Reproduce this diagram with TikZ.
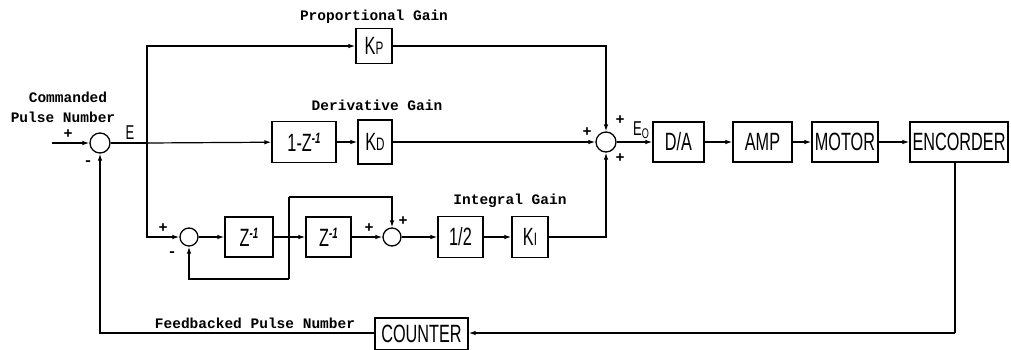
\documentclass[tikz,border=0pt]{standalone}
\usepackage{fontspec}
\setmainfont{Liberation Mono}
\newfontfamily\boxfont[FakeStretch=0.65]{Liberation Sans}
\newfontfamily\lblfont{Liberation Mono}
\usetikzlibrary{arrows.meta}
\newcommand\myzexp{\raisebox{8pt}{\fontsize{15}{15}\selectfont\bfseries\itshape -1}}
\newcommand\mysub[1]{{\fontsize{18}{18}\selectfont #1}}
\begin{document}
\begin{tikzpicture}[x=1pt,y=-1pt,
  blk/.style={draw,line width=1.3pt,inner sep=0pt,font=\boxfont\fontsize{25}{25}\selectfont},
  sumc/.style={draw,circle,line width=1.3pt,inner sep=0pt,minimum size=20pt},
  wire/.style={line width=1.2pt},
  arr/.style={wire,-{Latex[length=7pt,width=4.5pt]}},
  lbl/.style={font=\lblfont\bfseries\fontsize{14.5}{14.5}\selectfont,inner sep=0pt},
  sgn/.style={font=\lblfont\bfseries\fontsize{15}{15}\selectfont,inner sep=0pt},
]
\useasboundingbox (0,0) rectangle (1011,349);
% main row
\coordinate (in) at (52,143);
\node[sumc] (s1) at (100,143) {};
\coordinate (j1) at (147,143);
\node[blk,minimum width=64pt,minimum height=41pt] (dz) at (304,142) {1-Z\myzexp};
\node[blk,minimum width=34pt,minimum height=44pt] (kd) at (375,142) {K\mysub{D}};
\node[blk,minimum width=36pt,minimum height=35pt] (kp) at (374,46) {K\mysub{P}};
\node[sumc] (s2) at (606,142) {};
\node[blk,minimum width=51pt,minimum height=40pt] (da) at (678.5,142) {D/A};
\node[blk,minimum width=59pt,minimum height=40pt] (amp) at (762.5,142) {AMP};
\node[blk,minimum width=66pt,minimum height=40pt] (motor) at (845,142) {MOTOR};
\node[blk,minimum width=98pt,minimum height=40pt] (enc) at (959,142) {ENCORDER};
\node[blk,minimum width=93pt,minimum height=32pt] (counter) at (421.5,334) {COUNTER};
% lower row
\node[sumc,minimum size=18pt] (s3) at (189,237) {};
\node[blk,minimum width=48pt,minimum height=40pt] (z1) at (249,237) {Z\myzexp};
\coordinate (j2) at (289,237);
\node[blk,minimum width=45pt,minimum height=40pt] (z2) at (328.5,237) {Z\myzexp};
\node[sumc,minimum size=18pt] (s4) at (392,237) {};
\node[blk,minimum width=45pt,minimum height=41pt] (half) at (460.5,237) {1/2};
\node[blk,minimum width=36pt,minimum height=41pt] (ki) at (530,237) {K\mysub{I}};
\coordinate (t2) at (289,197);
\coordinate (b2) at (289,279);
\coordinate (encd) at (955,333);
% connectors
\draw[arr] (in) -- (s1);
\draw[wire] (s1) -- (j1);
\draw[arr] (j1) -- (dz);
\draw[arr] (dz) -- (kd);
\draw[arr] (j1) |- (kp);
\draw[arr] (j1) |- (s3);
\draw[arr] (kp) -| (s2);
\draw[arr] (kd) -- (s2);
\draw[arr] (ki) -| (s2);
\draw[arr] (s2) -- (da);
\draw[arr] (da) -- (amp);
\draw[arr] (amp) -- (motor);
\draw[arr] (motor) -- (enc);
\draw[wire] (enc.south -| encd) -- (encd);
\draw[arr] (encd) -- (encd -| counter.east);
\draw[arr] (counter.west |- encd) -| (s1);
\draw[arr] (s3) -- (z1);
\draw[wire] (z1) -- (j2);
\draw[arr] (j2) -- (z2);
\draw[wire] (j2) -- (t2);
\draw[arr] (t2) -| (s4);
\draw[wire] (j2) -- (b2);
\draw[arr] (b2) -| (s3);
\draw[arr] (z2) -- (s4);
\draw[arr] (s4) -- (half);
\draw[arr] (half) -- (ki);
\fill (j1) circle (1.6pt);
\fill (j2) circle (1.6pt);
% labels
\node[lbl] (l1) at (68,97) {Commanded};
\node[lbl] (l2) at (63,117) {Pulse Number};
\node[lbl] (l3) at (374,17) {Proportional Gain};
\node[lbl] (l4) at (377,105) {Derivative Gain};
\node[lbl] (l5) at (510,201) {Integral Gain};
\node[lbl] (l6) at (255,323) {Feedbacked Pulse Number};
\node[font=\boxfont\fontsize{20}{20}\selectfont,inner sep=0pt] (le) at (130,133) {E};
\node[font=\boxfont\fontsize{20}{20}\selectfont,inner sep=0pt] (leo) at (641,130) {E\raisebox{-3pt}{\fontsize{14}{14}\selectfont O}};
\node[sgn] (p1) at (68,134) {+};
\node[sgn] (m1) at (88,163) {-};
\node[sgn] (p2) at (587,132) {+};
\node[sgn] (p3) at (620,120) {+};
\node[sgn] (p4) at (620,158) {+};
\node[sgn] (p5) at (163,228) {+};
\node[sgn] (m2) at (172,254) {-};
\node[sgn] (p6) at (369,228) {+};
\node[sgn] (p7) at (403,221) {+};
\end{tikzpicture}
\end{document}
